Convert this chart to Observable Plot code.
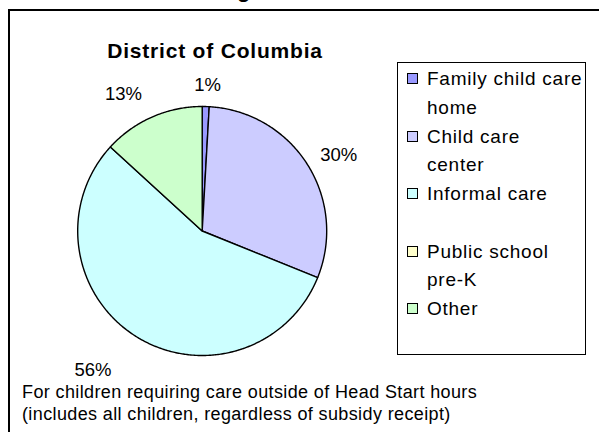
<!DOCTYPE html>
<html>
<head>
<meta charset="utf-8">
<script src="https://cdn.jsdelivr.net/npm/d3@7"></script>
<script src="https://cdn.jsdelivr.net/npm/@observablehq/plot@0.6"></script>
<style>
  html, body { margin: 0; padding: 0; background: #fff; }
  body { width: 599px; height: 432px; overflow: hidden; position: relative; font-family: "Liberation Sans", Arial, sans-serif; }
  #frame { position: absolute; left: 8px; top: 9px; width: 620px; height: 460px; border-left: 2px solid #000; border-top: 2px solid #000; }
  #chart { position: absolute; left: 0; top: 0; }
  #legend { position: absolute; left: 397px; top: 62px; width: 187px; height: 291px; border: 1.5px solid #000; background: #fff; overflow: hidden; }
  .item { position: absolute; left: 9px; font-size: 19px; letter-spacing: 0.75px; line-height: 28.6px; color: #000; white-space: nowrap; }
  .sw { position: absolute; left: 0; width: 9px; height: 9px; border: 1.5px solid #000; top: 8px; }
  .lbl { position: absolute; left: 20px; top: 0; }
  #title { position: absolute; left: 60px; width: 310px; text-align: center; top: 39px; font-size: 21px; font-weight: bold; letter-spacing: 0.8px; }
  #topcut { position: absolute; left: 237px; top: -23px; font-size: 22px; font-weight: bold; line-height: 25px; }
  #foot { position: absolute; left: 22px; top: 382px; font-size: 18px; letter-spacing: 0.38px; line-height: 21.5px; white-space: nowrap; }
</style>
</head>
<body>
<div id="frame"></div>
<div id="chart"></div>
<div id="topcut">g</div>
<div id="title">District of Columbia</div>
<div id="legend"></div>
<div id="foot">For children requiring care outside of Head Start hours<br>(includes all children, regardless of subsidy receipt)</div>
<script>
// ---- data ----
const categories = ["Family child care home", "Child care center", "Informal care", "Public school pre-K", "Other"];
const legendLines = [["Family child care", "home"], ["Child care", "center"], ["Informal care"], ["Public school", "pre-K"], ["Other"]];
const values = [0.9, 30.2, 55.7, 0.0, 13.2];
const labels = ["1%", "30%", "56%", "", "13%"];
const colors = ["#9999FF", "#CCCCFF", "#CCFFFF", "#FFFFCC", "#CCFFCC"];

// ---- build slices ----
const pie = d3.pie().sort(null).value(d => d.value).startAngle(0).endAngle(2 * Math.PI);
const rows = categories.map((c, i) => ({category: c, value: values[i], label: labels[i], color: colors[i]}));
const arcs = pie(rows);
const polyPts = [];
arcs.forEach((a, i) => {
  if (a.endAngle - a.startAngle <= 0) return;
  const n = Math.max(2, Math.ceil((a.endAngle - a.startAngle) / 0.01));
  polyPts.push({k: i, x: 0, y: 0, color: a.data.color});
  for (let j = 0; j <= n; j++) {
    const t = a.startAngle + (a.endAngle - a.startAngle) * j / n;
    polyPts.push({k: i, x: Math.sin(t), y: Math.cos(t), color: a.data.color});
  }
  polyPts.push({k: i, x: 0, y: 0, color: a.data.color});
});
const labelPts = arcs.filter(a => a.data.label).map(a => {
  const m = (a.startAngle + a.endAngle) / 2;
  return {label: a.data.label, x: Math.sin(m) * 1.27, y: Math.cos(m) * 1.27, cat: a.data.category};
});

const cx = 201.7, cy = 230.5, r = 124.5;
const chart = Plot.plot({
  width: 599,
  height: 432,
  margin: 0,
  x: {domain: [-1, 1], range: [cx - r, cx + r], axis: null},
  y: {domain: [-1, 1], range: [cy + r, cy - r], axis: null},
  style: {background: "transparent", fontFamily: "Liberation Sans, Arial, sans-serif"},
  marks: [
    Plot.line(polyPts, {x: "x", y: "y", z: "k", fill: "color", stroke: "#000", strokeWidth: 1.4, curve: "linear", strokeLinejoin: "round"}),
    Plot.text(labelPts.filter(d => d.cat === "Family child care home"), {x: "x", y: "y", text: "label", fontSize: 18.5, fill: "#000", dx: 1, dy: 12}),
    Plot.text(labelPts.filter(d => d.cat === "Child care center"), {x: "x", y: "y", text: "label", fontSize: 18.5, fill: "#000", dx: 3, dy: 9}),
    Plot.text(labelPts.filter(d => d.cat === "Informal care"), {x: "x", y: "y", text: "label", fontSize: 18.5, fill: "#000", dx: -25, dy: 5}),
    Plot.text(labelPts.filter(d => d.cat === "Other"), {x: "x", y: "y", text: "label", fontSize: 18.5, fill: "#000", dx: -15, dy: 8})
  ]
});
document.getElementById("chart").append(chart);

// ---- legend ----
const leg = document.getElementById("legend");
categories.forEach((c, i) => {
  const it = document.createElement("div");
  it.className = "item";
  it.style.top = (2 + i * 57.5) + "px";
  const sw = document.createElement("div");
  sw.className = "sw";
  sw.style.background = colors[i];
  const lb = document.createElement("div");
  lb.className = "lbl";
  lb.innerHTML = legendLines[i].join("<br>");
  it.append(sw, lb);
  leg.append(it);
});
</script>
</body>
</html>
